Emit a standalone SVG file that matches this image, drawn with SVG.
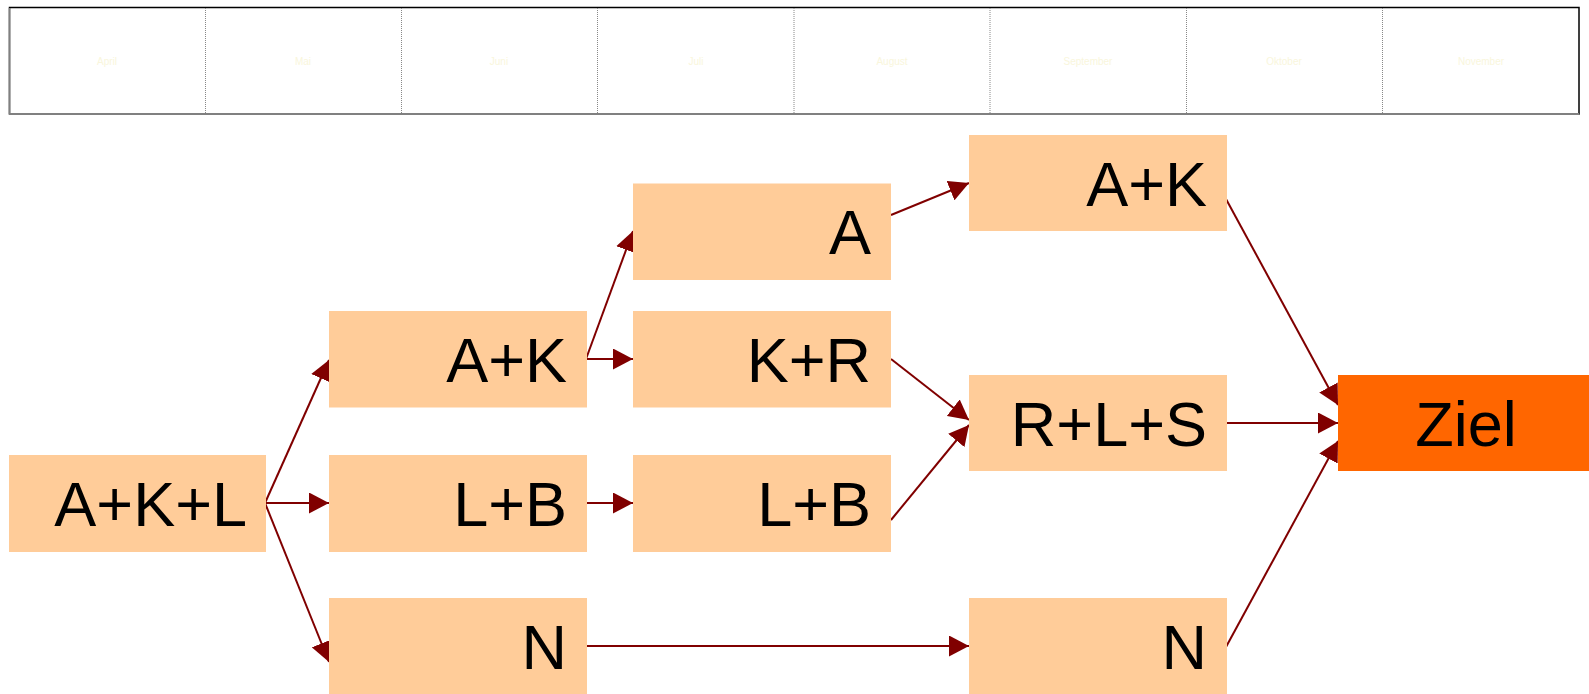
<svg xmlns="http://www.w3.org/2000/svg" width="1589" height="694" viewBox="0 0 1589 694">
<style>
.node{fill:#ffcc99}
.lbl{font-family:"Liberation Sans",Arial,sans-serif;font-size:63px;fill:#000;text-anchor:end}
.hdr{font-family:"Liberation Sans",Arial,sans-serif;font-size:10px;fill:#f9f6dc;text-anchor:middle}
.div{stroke:#888;stroke-width:1;stroke-dasharray:1 1}
.edge{stroke:#800000;stroke-width:2;fill:none;marker-end:url(#ah)}
</style>
<defs>
<marker id="ah" markerUnits="userSpaceOnUse" markerWidth="20" markerHeight="21" refX="20" refY="10.5" orient="auto">
<path d="M0,0 L20,10.5 L0,21 z" fill="#800000"/>
</marker>
</defs>
<rect width="1589" height="694" fill="#fff"/>
<g id="timeline">
<rect x="9.5" y="7.5" width="1569.5" height="106.5" fill="#fff" stroke="#000" stroke-width="1.5"/>
<line x1="9" y1="114" x2="1579" y2="114" stroke="#808080" stroke-width="2"/>
<line x1="9.5" y1="8" x2="9.5" y2="114" stroke="#808080" stroke-width="1.5"/>
<line class="div" x1="205.5" y1="8" x2="205.5" y2="113"/>
<line class="div" x1="401.5" y1="8" x2="401.5" y2="113"/>
<line class="div" x1="597.5" y1="8" x2="597.5" y2="113"/>
<line class="div" x1="794" y1="8" x2="794" y2="113"/>
<line class="div" x1="990" y1="8" x2="990" y2="113"/>
<line class="div" x1="1186.5" y1="8" x2="1186.5" y2="113"/>
<line class="div" x1="1382.5" y1="8" x2="1382.5" y2="113"/>
<text class="hdr" x="107" y="65">April</text>
<text class="hdr" x="303" y="65">Mai</text>
<text class="hdr" x="499" y="65">Juni</text>
<text class="hdr" x="696" y="65">Juli</text>
<text class="hdr" x="892" y="65">August</text>
<text class="hdr" x="1088" y="65">September</text>
<text class="hdr" x="1284" y="65">Oktober</text>
<text class="hdr" x="1481" y="65">November</text>
</g>
<g id="connectors">
<line class="edge" x1="265" y1="503" x2="329" y2="360"/>
<line class="edge" x1="265" y1="503" x2="329" y2="503"/>
<line class="edge" x1="265" y1="503" x2="329" y2="662"/>
<line class="edge" x1="586" y1="359" x2="633" y2="231"/>
<line class="edge" x1="586" y1="359" x2="633" y2="359"/>
<line class="edge" x1="587" y1="503" x2="633" y2="503"/>
<line class="edge" x1="587" y1="646" x2="969" y2="646"/>
<line class="edge" x1="891" y1="215" x2="969" y2="183"/>
<line class="edge" x1="891" y1="359" x2="969" y2="420"/>
<line class="edge" x1="891" y1="520" x2="969" y2="425"/>
<line class="edge" x1="1226" y1="199" x2="1338" y2="405"/>
<line class="edge" x1="1227" y1="423" x2="1338" y2="423"/>
<line class="edge" x1="1226" y1="647" x2="1338" y2="441"/>
</g>
<g id="n1"><rect class="node" x="9" y="455" width="257" height="97"/><text class="lbl" x="247" y="526">A+K+L</text></g>
<g id="n2"><rect class="node" x="329" y="311" width="258" height="96.5"/><text class="lbl" x="567" y="382">A+K</text></g>
<g id="n3"><rect class="node" x="329" y="455" width="258" height="97"/><text class="lbl" x="567" y="526">L+B</text></g>
<g id="n4"><rect class="node" x="329" y="598" width="258" height="96"/><text class="lbl" x="567" y="669">N</text></g>
<g id="n5"><rect class="node" x="633" y="183.5" width="258" height="96.5"/><text class="lbl" x="871" y="254">A</text></g>
<g id="n6"><rect class="node" x="633" y="311" width="258" height="96.5"/><text class="lbl" x="871" y="382">K+R</text></g>
<g id="n7"><rect class="node" x="633" y="455" width="258" height="97"/><text class="lbl" x="871" y="526">L+B</text></g>
<g id="n8"><rect class="node" x="969" y="135" width="258" height="96"/><text class="lbl" x="1207" y="206">A+K</text></g>
<g id="n9"><rect class="node" x="969" y="375" width="258" height="96"/><text class="lbl" x="1207" y="446">R+L+S</text></g>
<g id="n10"><rect class="node" x="969" y="598" width="258" height="96"/><text class="lbl" x="1207" y="669">N</text></g>
<g id="n11"><rect x="1338" y="375" width="251" height="96" fill="#ff6600"/><text class="lbl" x="1466" y="446" style="text-anchor:middle">Ziel</text></g>
</svg>
